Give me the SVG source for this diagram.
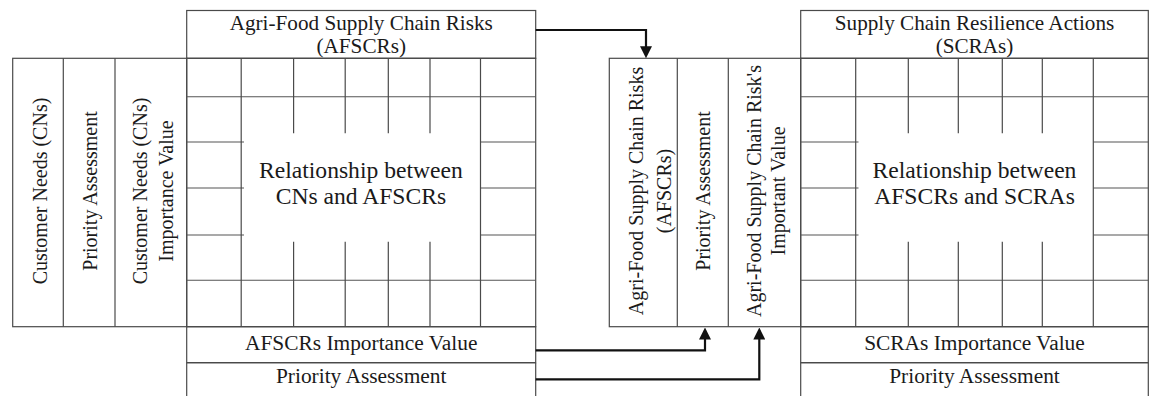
<svg xmlns="http://www.w3.org/2000/svg" width="1152" height="396" viewBox="0 0 1152 396">
<style>
.box{fill:none;stroke:#4a4a4a;stroke-width:1.2}
.ln{stroke:#555;stroke-width:1.1;fill:none}
.t{font-family:"Liberation Serif","Times New Roman",serif;fill:#1a1a1a;text-anchor:middle}
.h{font-size:20px}
.r{font-size:22.5px}
.v{font-size:20px}
.arr{fill:none;stroke:#111;stroke-width:2.2}
</style>
<defs>
<marker id="ah" markerUnits="userSpaceOnUse" markerWidth="12" markerHeight="12" refX="9" refY="6" orient="auto">
<path d="M0,0 L12,6 L0,12 Z" fill="#111"/>
</marker>
</defs>
<rect width="1152" height="396" fill="#fff"/>

<g id="afscr-header">
<rect class="box" x="186.7" y="10.5" width="349" height="47.8"/>
<g transform="translate(361.2,0) scale(1.06,1)">
<text class="t h" x="0" y="30">Agri-Food Supply Chain Risks</text>
<text class="t h" x="0" y="53">(AFSCRs)</text>
</g>
</g>

<g id="customer-needs">
<rect class="box" x="12.7" y="58.3" width="174" height="268.4"/>
<line class="box" x1="63.3" y1="58.3" x2="63.3" y2="326.7"/>
<line class="box" x1="115" y1="58.3" x2="115" y2="326.7"/>
<text class="t v" transform="translate(46.5,191) rotate(-90)">Customer Needs (CNs)</text>
<text class="t v" transform="translate(96.8,191) rotate(-90)">Priority Assessment</text>
<text class="t v" transform="translate(147.3,191) rotate(-90)">Customer Needs (CNs)</text>
<text class="t v" transform="translate(173.3,191) rotate(-90)">Importance Value</text>
</g>

<g id="cn-afscr-matrix">
<rect class="box" x="186.7" y="58.3" width="349" height="268.4"/>
<line class="ln" x1="186.7" y1="96.7" x2="535.7" y2="96.7"/>
<line class="ln" x1="186.7" y1="280.3" x2="535.7" y2="280.3"/>
<line class="ln" x1="186.7" y1="142" x2="244" y2="142"/>
<line class="ln" x1="186.7" y1="188" x2="244" y2="188"/>
<line class="ln" x1="186.7" y1="235" x2="244" y2="235"/>
<line class="ln" x1="480.5" y1="142" x2="535.7" y2="142"/>
<line class="ln" x1="480.5" y1="188" x2="535.7" y2="188"/>
<line class="ln" x1="480.5" y1="235" x2="535.7" y2="235"/>
<line class="box" x1="241.2" y1="58.3" x2="241.2" y2="326.7"/>
<line class="box" x1="480.5" y1="58.3" x2="480.5" y2="326.7"/>
<path class="box" d="M293.6,58.3V133.3M345.2,58.3V133.3M388.3,58.3V133.3M430,58.3V133.3M293.6,241.7V326.7M345.2,241.7V326.7M388.3,241.7V326.7M430,241.7V326.7"/>
<g transform="translate(360.9,0) scale(1.05,1)">
<text class="t r" x="0" y="178">Relationship between</text>
<text class="t r" x="0" y="204">CNs and AFSCRs</text>
</g>
</g>

<g id="afscr-importance">
<rect class="box" x="186.7" y="326.7" width="349" height="36"/>
<g transform="translate(361.2,0) scale(1.07,1)">
<text class="t h" x="0" y="350">AFSCRs Importance Value</text>
</g>
</g>

<g id="afscr-priority">
<path class="box" d="M186.7,362.7H535.7M186.7,362.7V400M535.7,362.7V400"/>
<g transform="translate(361.2,0) scale(1.07,1)">
<text class="t h" x="0" y="383">Priority Assessment</text>
</g>
</g>

<g id="afscr-ranking">
<rect class="box" x="609.3" y="58.3" width="191.4" height="268.4"/>
<line class="box" x1="677.3" y1="58.3" x2="677.3" y2="326.7"/>
<line class="box" x1="728.3" y1="58.3" x2="728.3" y2="326.7"/>
<text class="t v" transform="translate(643.3,191) rotate(-90)">Agri-Food Supply Chain Risks</text>
<text class="t v" transform="translate(670.7,191) rotate(-90)">(AFSCRs)</text>
<text class="t v" transform="translate(710,191) rotate(-90)">Priority Assessment</text>
<text class="t v" transform="translate(760.7,191) rotate(-90)">Agri-Food Supply Chain Risk's</text>
<text class="t v" transform="translate(785,191) rotate(-90)">Important Value</text>
</g>

<g id="scra-header">
<rect class="box" x="800.7" y="10.5" width="347.6" height="47.8"/>
<g transform="translate(974.5,0) scale(1.06,1)">
<text class="t h" x="0" y="30">Supply Chain Resilience Actions</text>
<text class="t h" x="0" y="53">(SCRAs)</text>
</g>
</g>

<g id="afscr-scra-matrix">
<rect class="box" x="800.7" y="58.3" width="347.6" height="268.4"/>
<line class="ln" x1="800.7" y1="96.7" x2="1148.3" y2="96.7"/>
<line class="ln" x1="800.7" y1="280.3" x2="1148.3" y2="280.3"/>
<line class="ln" x1="800.7" y1="142" x2="858.5" y2="142"/>
<line class="ln" x1="800.7" y1="188" x2="858.5" y2="188"/>
<line class="ln" x1="800.7" y1="235" x2="858.5" y2="235"/>
<line class="ln" x1="1093.3" y1="142" x2="1148.3" y2="142"/>
<line class="ln" x1="1093.3" y1="188" x2="1148.3" y2="188"/>
<line class="ln" x1="1093.3" y1="235" x2="1148.3" y2="235"/>
<line class="box" x1="855.7" y1="58.3" x2="855.7" y2="326.7"/>
<line class="box" x1="1093.3" y1="58.3" x2="1093.3" y2="326.7"/>
<path class="box" d="M908.3,58.3V133.3M958.3,58.3V133.3M1002.3,58.3V133.3M1042.3,58.3V133.3M908.3,241.7V326.7M958.3,241.7V326.7M1002.3,241.7V326.7M1042.3,241.7V326.7"/>
<g transform="translate(974.5,0) scale(1.05,1)">
<text class="t r" x="0" y="178">Relationship between</text>
<text class="t r" x="0" y="204">AFSCRs and SCRAs</text>
</g>
</g>

<g id="scra-importance">
<rect class="box" x="800.7" y="326.7" width="347.6" height="36"/>
<g transform="translate(974.5,0) scale(1.07,1)">
<text class="t h" x="0" y="350">SCRAs Importance Value</text>
</g>
</g>

<g id="scra-priority">
<path class="box" d="M800.7,362.7H1148.3M800.7,362.7V400M1148.3,362.7V400"/>
<g transform="translate(974.5,0) scale(1.07,1)">
<text class="t h" x="0" y="383">Priority Assessment</text>
</g>
</g>

<g id="connectors">
<path class="arr" d="M535.7,30H646V55.3" marker-end="url(#ah)"/>
<path class="arr" d="M535.7,350.3H705V330.5" marker-end="url(#ah)"/>
<path class="arr" d="M535.7,379.3H759.3V330.5" marker-end="url(#ah)"/>
</g>
</svg>
